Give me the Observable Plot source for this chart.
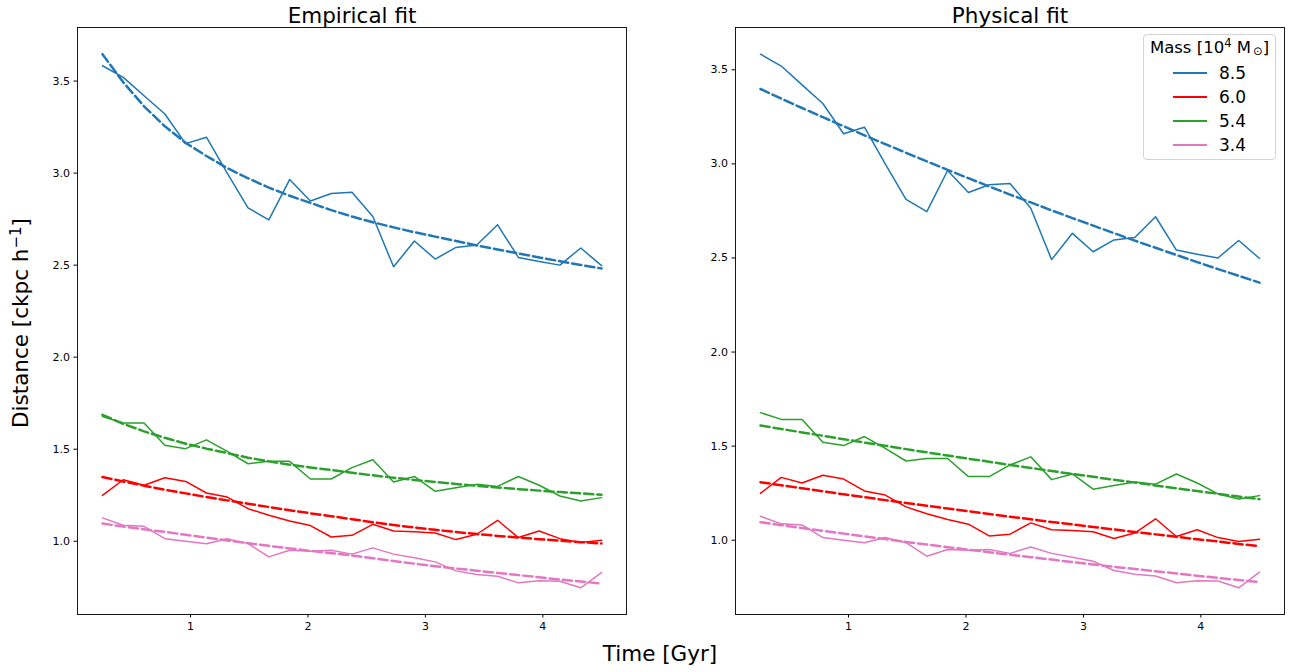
<!DOCTYPE html>
<html><head><meta charset="utf-8">
<script src="https://cdn.jsdelivr.net/npm/d3@7"></script>
<script src="https://cdn.jsdelivr.net/npm/@observablehq/plot@0.6"></script>
<style>
body{margin:0;background:#fff;font-family:"DejaVu Sans",sans-serif;}
#wrap{position:relative;width:1295px;height:672px;overflow:hidden;background:#fff;}
.panel{position:absolute;top:0;}
.lab{position:absolute;font-size:21.5px;color:#000;white-space:nowrap;line-height:1;}
.lab sup{font-size:0.7em;vertical-align:0.45em;line-height:0;}
#legend{position:absolute;left:1143px;top:34px;width:133px;height:126px;box-sizing:border-box;border:1px solid #d3d3d3;border-radius:4px;background:rgba(255,255,255,0.8);font-size:17px;color:#000;}
#legend .ttl{position:absolute;left:0;width:100%;top:3px;text-align:center;white-space:nowrap;font-size:16.5px;}
#legend .ttl sup{font-size:0.7em;vertical-align:0.5em;line-height:0;}
#legend .ttl sub{font-size:0.7em;vertical-align:-0.2em;line-height:0;margin-left:2px;}
#legend .row{position:absolute;left:29px;height:20px;display:flex;align-items:center;}
#legend .sw{width:34px;height:1.5px;margin-right:12px;}
</style></head><body>
<div id="wrap">
  <div class="panel" id="left" style="left:0"></div>
  <div class="panel" id="right" style="left:658px"></div>
  <div class="lab" style="left:21px;top:323px;transform:translate(-50%,-50%) rotate(-90deg);">Distance [ckpc h<sup>−1</sup>]</div>
  <div class="lab" style="left:660px;top:654px;transform:translate(-50%,-50%);">Time [Gyr]</div>
  <div id="legend"></div>
</div>
<script>
const masses = ["8.5", "6.0", "5.4", "3.4"];
const colors = ["#1f77b4", "#ff0000", "#2ca02c", "#e377c2"];
const xTicks = [1, 2, 3, 4];
const yTicks = [1.0, 1.5, 2.0, 2.5, 3.0, 3.5];
const time = [0.25, 0.4271, 0.6042, 0.7813, 0.9583, 1.1354, 1.3125, 1.4896, 1.6667, 1.8438, 2.0208, 2.1979, 2.375, 2.5521, 2.7292, 2.9063, 3.0833, 3.2604, 3.4375, 3.6146, 3.7917, 3.9688, 4.1458, 4.3229, 4.5];

const obs85 = [3.583, 3.520, 3.420, 3.321, 3.160, 3.195, 3.000, 2.811, 2.746, 2.965, 2.848, 2.889, 2.896, 2.764, 2.491, 2.631, 2.533, 2.596, 2.609, 2.719, 2.542, 2.520, 2.500, 2.593, 2.497];
const obs60 = [1.249, 1.334, 1.304, 1.345, 1.325, 1.262, 1.240, 1.177, 1.141, 1.110, 1.085, 1.023, 1.032, 1.092, 1.056, 1.051, 1.045, 1.009, 1.038, 1.114, 1.020, 1.056, 1.014, 0.993, 1.005];
const obs54 = [1.678, 1.642, 1.642, 1.521, 1.503, 1.551, 1.488, 1.421, 1.434, 1.434, 1.338, 1.338, 1.400, 1.443, 1.322, 1.352, 1.271, 1.291, 1.309, 1.298, 1.352, 1.304, 1.246, 1.219, 1.237];
const obs34 = [1.127, 1.087, 1.081, 1.014, 1.000, 0.986, 1.014, 0.987, 0.915, 0.951, 0.946, 0.951, 0.930, 0.964, 0.930, 0.910, 0.888, 0.839, 0.819, 0.810, 0.774, 0.785, 0.783, 0.747, 0.830];

const emp85 = [3.646, 3.493, 3.363, 3.254, 3.164, 3.093, 3.027, 2.972, 2.921, 2.877, 2.838, 2.799, 2.764, 2.733, 2.705, 2.679, 2.655, 2.631, 2.607, 2.585, 2.563, 2.542, 2.521, 2.501, 2.482];
const emp60 = [1.349, 1.325, 1.302, 1.280, 1.260, 1.240, 1.222, 1.204, 1.186, 1.168, 1.152, 1.136, 1.120, 1.103, 1.088, 1.075, 1.062, 1.050, 1.039, 1.029, 1.020, 1.011, 1.003, 0.995, 0.988];
const emp54 = [1.687, 1.638, 1.597, 1.562, 1.530, 1.503, 1.479, 1.454, 1.434, 1.416, 1.401, 1.387, 1.372, 1.358, 1.345, 1.333, 1.322, 1.311, 1.301, 1.292, 1.283, 1.275, 1.267, 1.260, 1.253];
const emp34 = [1.096, 1.080, 1.065, 1.051, 1.035, 1.020, 1.004, 0.989, 0.975, 0.961, 0.948, 0.935, 0.923, 0.908, 0.893, 0.878, 0.864, 0.852, 0.840, 0.828, 0.816, 0.804, 0.792, 0.781, 0.770];

const phys85 = [3.398, 3.347, 3.297, 3.248, 3.200, 3.152, 3.105, 3.059, 3.013, 2.968, 2.924, 2.880, 2.837, 2.795, 2.753, 2.712, 2.672, 2.632, 2.592, 2.554, 2.516, 2.478, 2.441, 2.405, 2.369];
const phys60 = [1.308, 1.292, 1.276, 1.260, 1.244, 1.229, 1.213, 1.198, 1.183, 1.168, 1.154, 1.139, 1.125, 1.111, 1.097, 1.084, 1.070, 1.057, 1.044, 1.031, 1.018, 1.005, 0.993, 0.980, 0.968];
const phys54 = [1.610, 1.591, 1.573, 1.555, 1.537, 1.519, 1.502, 1.484, 1.467, 1.450, 1.433, 1.417, 1.400, 1.384, 1.368, 1.352, 1.337, 1.321, 1.306, 1.291, 1.276, 1.261, 1.247, 1.232, 1.218];
const phys34 = [1.096, 1.080, 1.065, 1.050, 1.035, 1.020, 1.006, 0.991, 0.977, 0.963, 0.950, 0.936, 0.923, 0.910, 0.897, 0.884, 0.871, 0.859, 0.847, 0.835, 0.823, 0.811, 0.800, 0.788, 0.777];

const obsSeries = [obs85, obs60, obs54, obs34];
const empSeries = [emp85, emp60, emp54, emp34];
const physSeries = [phys85, phys60, phys54, phys34];

function toRows(series) {
  const rows = [];
  series.forEach((vals, k) => vals.forEach((v, i) => rows.push({t: time[i], v, m: masses[k]})));
  return rows;
}
function padded(ext, frac) {
  const r = ext[1] - ext[0];
  return [ext[0] - r * frac, ext[1] + r * frac];
}

function panel(title, fitSeries) {
  const obsRows = toRows(obsSeries);
  const fitRows = toRows(fitSeries);
  const yDomain = padded(d3.extent(obsRows.concat(fitRows), d => d.v), 0.05);
  const xDomain = padded(d3.extent(time), 0.05);
  return Plot.plot({
    width: 637, height: 672,
    marginLeft: 77, marginRight: 11, marginTop: 27, marginBottom: 58,
    style: {fontFamily: "DejaVu Sans", fontSize: "11px", color: "#000", background: "transparent", overflow: "visible"},
    x: {domain: xDomain, ticks: xTicks, tickFormat: d => String(d), tickSize: 3.5, tickPadding: 4, label: null},
    y: {domain: yDomain, ticks: yTicks, tickFormat: d3.format(".1f"), tickSize: 3.5, tickPadding: 4, label: null},
    color: {domain: masses, range: colors},
    marks: [
      Plot.line(obsRows, {x: "t", y: "v", z: "m", stroke: "m", strokeWidth: 1.5}),
      Plot.line(fitRows, {x: "t", y: "v", z: "m", stroke: "m", strokeWidth: 2.5, strokeDasharray: "9.25,4"}),
      Plot.frame({stroke: "#000", strokeWidth: 0.9}),
      Plot.text([title], {text: d => d, frameAnchor: "top", lineAnchor: "bottom", dy: -5, fontSize: 21.5, fill: "#000"})
    ]
  });
}

document.getElementById("left").appendChild(panel("Empirical fit", empSeries));
document.getElementById("right").appendChild(panel("Physical fit", physSeries));

const lg = document.getElementById("legend");
lg.innerHTML = '<div class="ttl">Mass [10<sup>4</sup> M<sub>⊙</sub>]</div>' +
  masses.map((m, k) => `<div class="row" style="top:${28 + k * 24}px"><div class="sw" style="background:${colors[k]}"></div><span>${m}</span></div>`).join("");
</script>
</body></html>
